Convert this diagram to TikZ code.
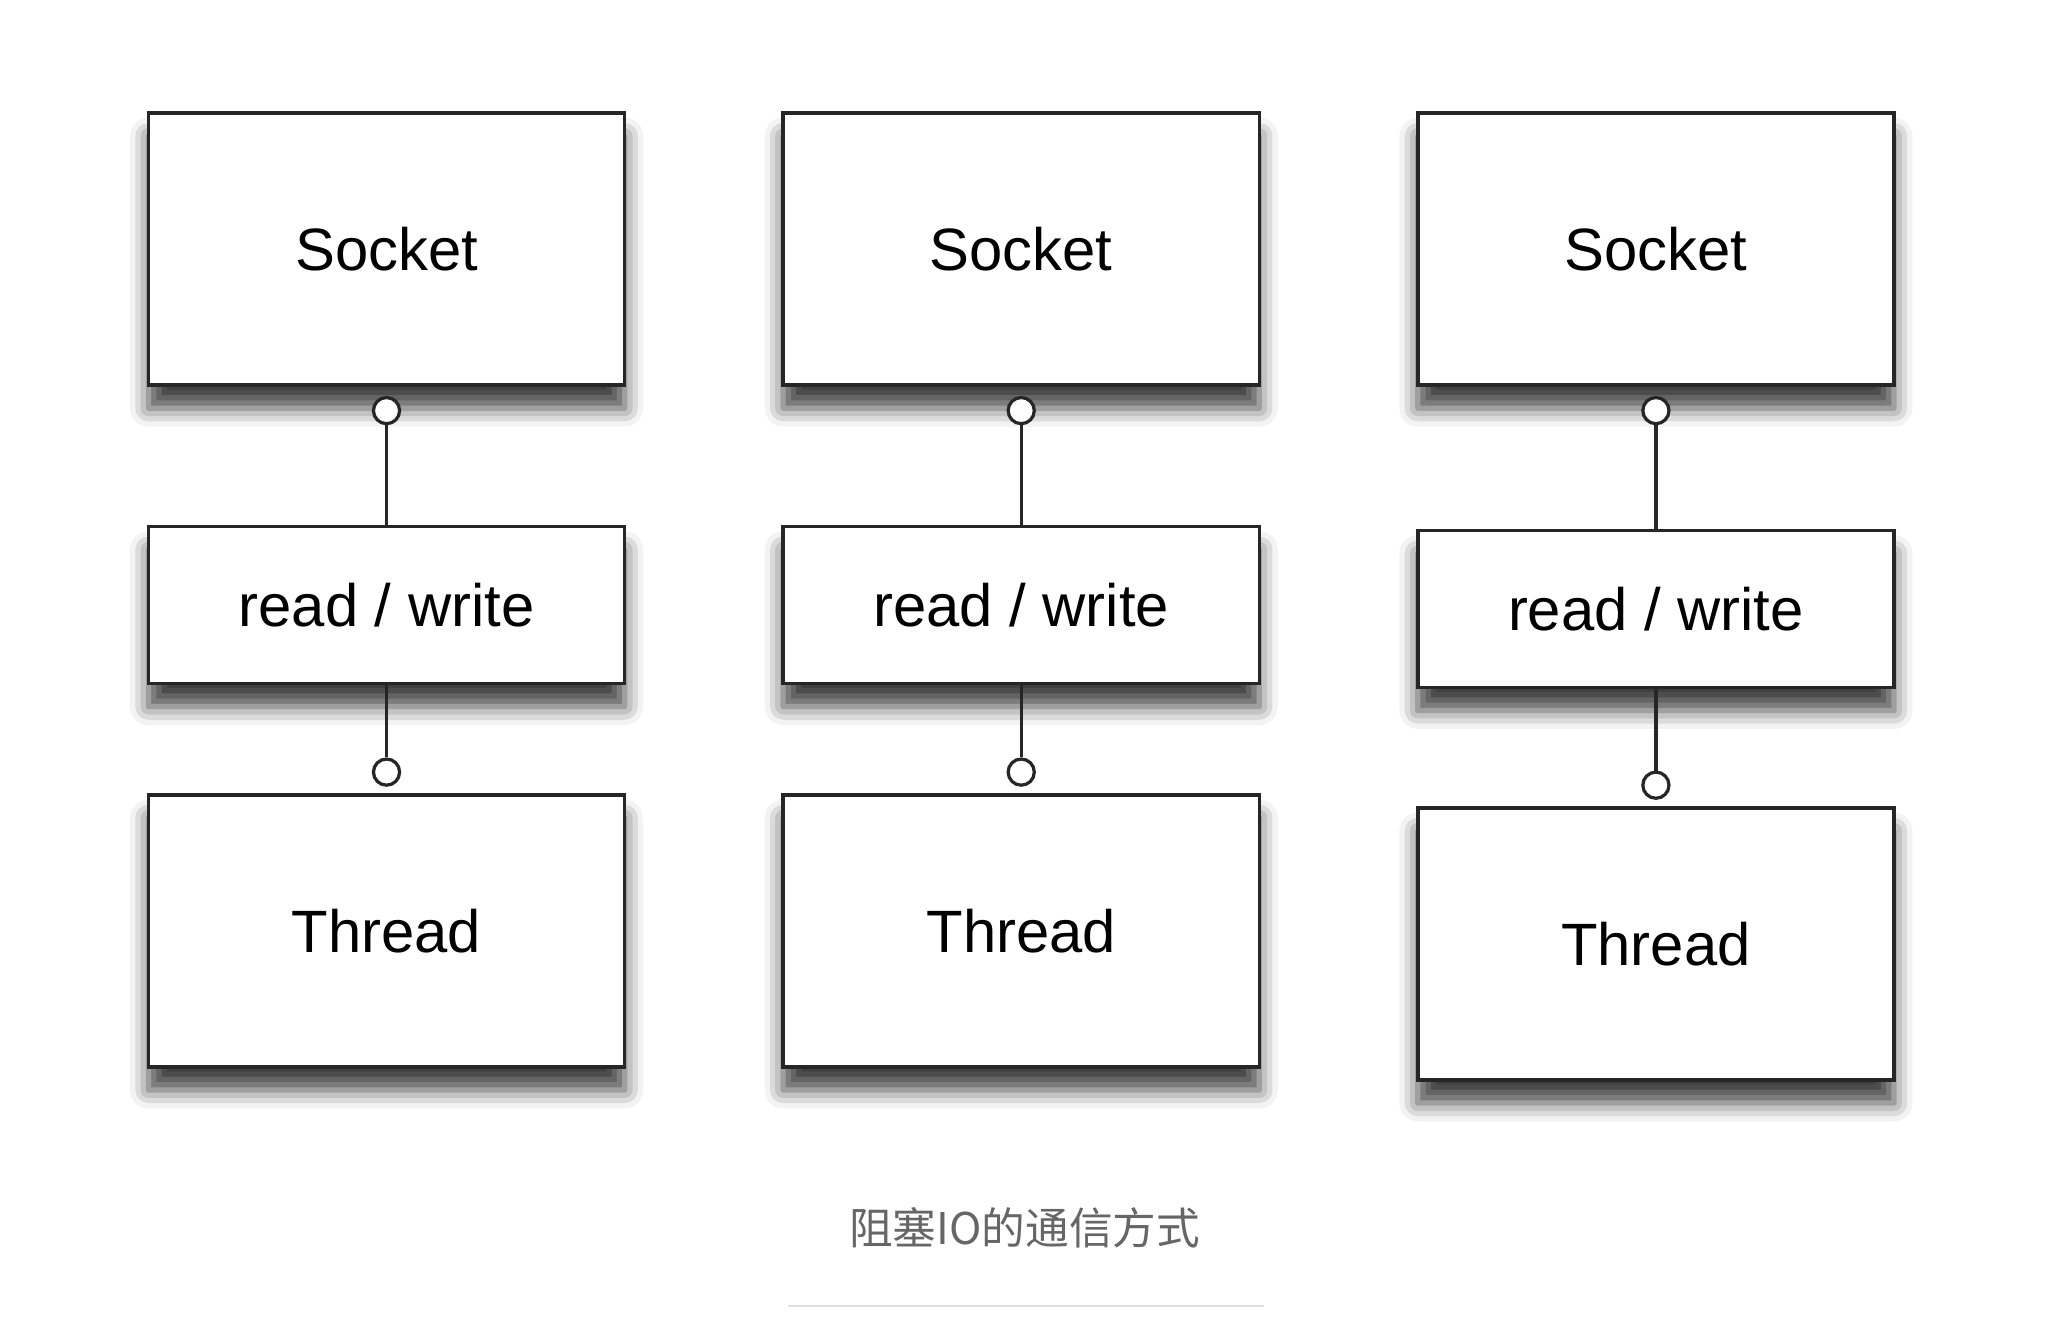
\documentclass[tikz,border=0pt]{standalone}
\usepackage{fontspec}
\setmainfont{Liberation Sans}
\newfontfamily\cjk{Noto Sans CJK SC}
\usetikzlibrary{shadows.blur}
\begin{document}
\begin{tikzpicture}[x=0.02cm,y=-0.02cm,
  box/.style={draw=black!85,line width=1.6pt,fill=white,inner sep=0pt,
    blur shadow={shadow xshift=0pt,shadow yshift=-10pt,shadow blur radius=8pt,shadow opacity=75},
    font=\fontsize{26}{30}\selectfont},
  ring/.style={circle,draw=black!85,line width=1.4pt,fill=white,minimum size=0.4cm,inner sep=0pt},
  link/.style={draw=black!85,line width=1.4pt}]
\useasboundingbox (0,0) rectangle (1565,1018);
\foreach \x/\dy/\i in {112/0/a,597/0/b,1082/1/c}{
  \node[box,minimum width=7.28cm,minimum height=4.16cm,anchor=north west] (s\i) at (\x,85) {Socket};
  \node[box,minimum width=7.28cm,minimum height=2.4cm,anchor=north west] (r\i) at (\x,401+3*\dy) {read / write};
  \node[box,minimum width=7.28cm,minimum height=4.16cm,anchor=north west] (t\i) at (\x,606+10*\dy) {Thread};
  \node[ring] (c\i) at ([yshift=-0.36cm]s\i.south) {};
  \node[ring] (d\i) at ([yshift=0.32cm]t\i.north) {};
  \draw[link] (c\i) -- (r\i);
  \draw[link] (r\i) -- (d\i);
}
\node[text=black!60,font=\cjk\fontsize{19}{22}\selectfont] (cap) at (783,938) {阻塞IO的通信方式};
\coordinate (l1) at (602,998); \coordinate (l2) at (966,998);
\draw[black!12,line width=1.2pt] (l1) -- (l2);
\end{tikzpicture}
\end{document}
